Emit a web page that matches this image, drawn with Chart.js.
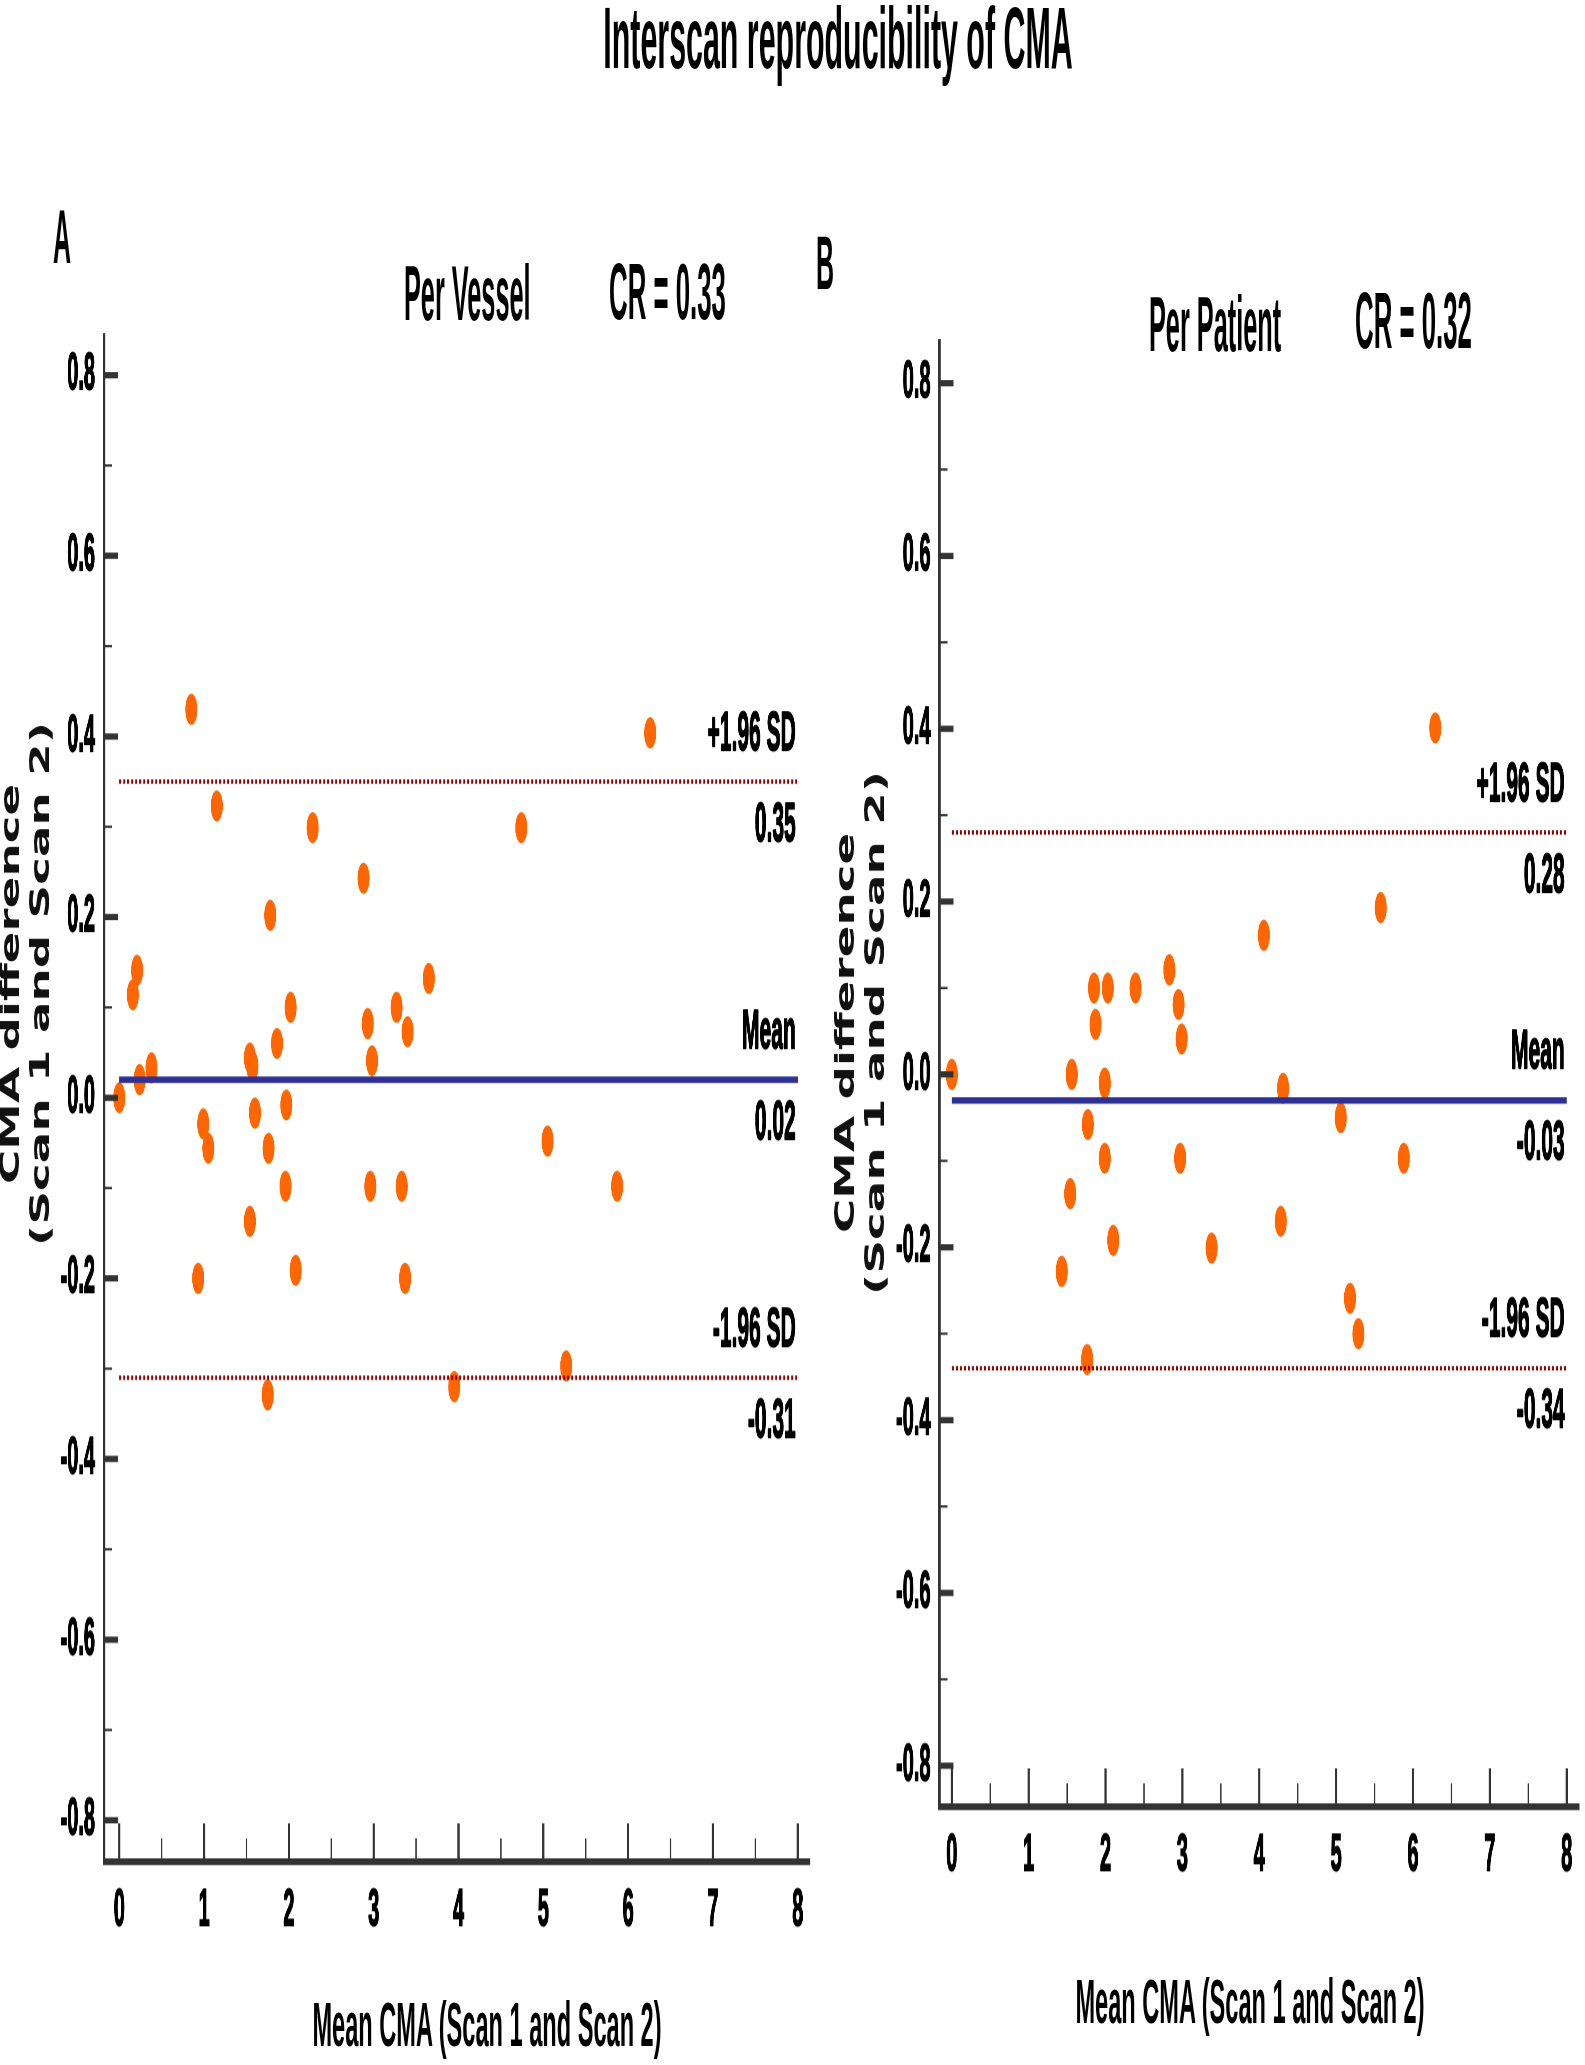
<!DOCTYPE html>
<html>
<head>
<meta charset="utf-8">
<script src="https://cdn.jsdelivr.net/npm/chart.js@4/dist/chart.umd.min.js"></script>
<style>
html,body{margin:0;padding:0;background:#fff;}
#page{position:relative;width:1585px;height:2065px;overflow:hidden;background:#fff;}
#stage{position:absolute;left:0;top:0;width:1585px;height:794px;transform-origin:0 0;}
.txt{position:absolute;white-space:nowrap;line-height:1;font-family:"Liberation Sans",Arial,sans-serif;color:#000;}
.ytitle{position:absolute;white-space:pre;text-align:center;font:bold 26px/30px "DejaVu Sans",Verdana,sans-serif;color:#111;}
canvas{position:absolute;top:0;}
</style>
</head>
<body>
<div id="page">
  <div id="stage">
    <canvas id="chartA" width="830" height="794" style="left:0px"></canvas>
    <canvas id="chartB" width="755" height="794" style="left:830px"></canvas>
  </div>
</div>
<script>
// ---------------- data ----------------
const xTicks = [0, 1, 2, 3, 4, 5, 6, 7, 8];
const xTickLabels = ['0', '1', '2', '3', '4', '5', '6', '7', '8'];
const xMinorTicks = [0.5, 1.5, 2.5, 3.5, 4.5, 5.5, 6.5, 7.5];
const yTicks = [-0.8, -0.6, -0.4, -0.2, 0, 0.2, 0.4, 0.6, 0.8];
const yTickLabels = ['-0.8', '-0.6', '-0.4', '-0.2', '0.0', '0.2', '0.4', '0.6', '0.8'];
const yMinorTicks = [-0.7, -0.5, -0.3, -0.1, 0.1, 0.3, 0.5, 0.7];

const lineLabels = ['+1.96 SD', 'Mean', '-1.96 SD'];

// Panel A: per vessel
const vesselMean = [0.85, 6.26, 1.15, 2.28, 4.74, 2.88, 1.78, 0.21, 0.16, 3.65, 2.02, 3.27, 2.93, 3.40, 1.86, 1.54, 1.57, 2.98, 0.38, 0.24, 0.00, 1.97, 1.60, 0.99, 1.05, 1.76, 5.05, 1.96, 2.96, 3.33, 5.87, 1.54, 0.93, 2.08, 3.37, 5.27, 3.95, 1.75];
const vesselDiff = [0.430, 0.404, 0.323, 0.299, 0.299, 0.243, 0.202, 0.141, 0.114, 0.132, 0.100, 0.100, 0.082, 0.073, 0.060, 0.044, 0.035, 0.041, 0.033, 0.020, 0.000, -0.008, -0.017, -0.029, -0.056, -0.056, -0.048, -0.098, -0.098, -0.098, -0.098, -0.137, -0.200, -0.191, -0.200, -0.297, -0.320, -0.329];
const vesselLines = [0.35, 0.02, -0.31];

// Panel B: per patient
const patientMean = [6.29, 5.58, 4.06, 2.83, 1.85, 2.03, 2.39, 2.95, 1.87, 2.99, 0.00, 1.56, 1.99, 4.31, 5.06, 1.77, 1.99, 2.97, 5.88, 1.54, 4.28, 2.10, 3.38, 1.43, 5.18, 5.29, 1.76];
const patientDiff = [0.401, 0.193, 0.161, 0.121, 0.100, 0.100, 0.100, 0.081, 0.058, 0.041, 0.000, 0.000, -0.010, -0.016, -0.050, -0.058, -0.097, -0.097, -0.097, -0.138, -0.170, -0.192, -0.201, -0.228, -0.259, -0.300, -0.330];
const patientLines = [0.28, -0.03, -0.34];

// ---------------- style / layout ----------------
const S = 2.6;               // vertical stretch of the whole figure
const CANVAS_H = 794;
const XAXIS_H = 50;
const AXIS_COLOR = '#333333';
const POINT_COLOR = '#ff6600';
const MEAN_COLOR = '#2e3192';
const LIMIT_COLOR = '#8b0000';
const SANS = '"Liberation Sans", Arial, sans-serif';

document.getElementById('stage').style.transform = 'scaleY(' + S + ')';

function addText(txt, x, baseline, size, vscale, center) {
  const d = document.createElement('div');
  d.className = 'txt';
  d.textContent = txt;
  d.style.fontSize = size + 'px';
  d.style.fontWeight = 'bold';
  d.style.left = x + 'px';
  d.style.top = (baseline / S - 0.8465 * size) + 'px';
  d.style.transformOrigin = '50% 84.65%';
  d.style.transform = (center ? 'translateX(-50%) ' : '') + 'scaleY(' + vscale + ')';
  document.getElementById('stage').appendChild(d);
}
function addYTitle(cx, cy) {
  const d = document.createElement('div');
  d.className = 'ytitle';
  d.textContent = 'CMA difference\n(Scan 1 and Scan 2)';
  d.style.left = cx + 'px';
  d.style.top = cy + 'px';
  d.style.transform = 'translate(-50%,-50%) rotate(-90deg) scaleX(1.8)';
  document.getElementById('page').appendChild(d);
}

addText('Interscan reproducibility of CMA', 838, 66, 30.4, 1.1, true);
addText('A', 53, 262, 25, 1.18, false);
addText('B', 816, 288, 25, 1.18, false);
addText('Per Vessel', 404, 322, 25.3, 1.18, false);
addText('CR = 0.33', 609, 323, 25.8, 1.18, false);
addText('Per Patient', 1149, 351, 25.3, 1.18, false);
addText('CR = 0.32', 1355, 351, 25.8, 1.18, false);
addText('Mean CMA (Scan 1 and Scan 2)', 487, 2048, 23.6, 1.03, true);
addText('Mean CMA (Scan 1 and Scan 2)', 1250, 2026, 23.6, 1.03, true);
addYTitle(25, 984);
addYTitle(860, 1033);

// ---------------- plugins ----------------
const inwardTicks = {
  id: 'inwardTicks',
  afterDraw(chart) {
    const {ctx, chartArea: a, scales: {x, y}} = chart;
    ctx.save();
    ctx.strokeStyle = AXIS_COLOR;
    ctx.lineCap = 'butt';
    const hTick = (v, len, w) => {
      const py = y.getPixelForValue(v);
      ctx.lineWidth = w; ctx.beginPath(); ctx.moveTo(a.left, py); ctx.lineTo(a.left + len, py); ctx.stroke();
    };
    const vTick = (v, len, w) => {
      const px = x.getPixelForValue(v);
      ctx.lineWidth = w; ctx.beginPath(); ctx.moveTo(px, a.bottom); ctx.lineTo(px, a.bottom - len); ctx.stroke();
    };
    yTicks.forEach(v => hTick(v, 14, 2.4));
    yMinorTicks.forEach(v => hTick(v, 8, 0.9));
    xTicks.forEach(v => vTick(v, 38 / S, 2.2));
    xMinorTicks.forEach(v => vTick(v, 23 / S, 1.4));
    ctx.restore();
  }
};

const limitLabels = {
  id: 'limitLabels',
  afterDatasetsDraw(chart, args, opts) {
    const {ctx, scales: {x, y}} = chart;
    const right = x.getPixelForValue(xTicks[xTicks.length - 1]) - 2;
    ctx.save();
    ctx.font = 'bold 21px ' + SANS;
    ctx.fillStyle = '#000';
    ctx.strokeStyle = '#000';
    ctx.lineWidth = 0.7;
    ctx.lineJoin = 'round';
    ctx.textAlign = 'right';
    ctx.textBaseline = 'middle';
    opts.values.forEach((v, i) => {
      const py = y.getPixelForValue(v);
      [[lineLabels[i], py - 18], [v.toFixed(2), py + 17]].forEach(([t, ty]) => {
        ctx.fillText(t, right, ty);
        ctx.strokeText(t, right, ty);
      });
    });
    ctx.restore();
  }
};

// ---------------- charts ----------------
function makeChart(id, means, diffs, lines, geo) {
  const points = means.map((m, i) => ({x: m, y: diffs[i]}));
  const lineSets = lines.map((v, i) => ({
    data: [{x: xTicks[0], y: v}, {x: xTicks[xTicks.length - 1], y: v}],
    showLine: true,
    pointRadius: 0,
    borderColor: i === 1 ? MEAN_COLOR : LIMIT_COLOR,
    borderWidth: i === 1 ? 2.5 : 1.7,
    borderDash: i === 1 ? [] : [2, 2],
    order: 1
  }));
  const tickFont = {family: SANS, size: 20, weight: 'bold'};
  return new Chart(document.getElementById(id), {
    type: 'scatter',
    data: {
      datasets: [{
        data: points,
        pointRadius: 6,
        pointHoverRadius: 6,
        pointBackgroundColor: POINT_COLOR,
        pointBorderColor: POINT_COLOR,
        pointBorderWidth: 0,
        order: 2
      }].concat(lineSets)
    },
    options: {
      responsive: false,
      animation: false,
      devicePixelRatio: S,
      events: [],
      layout: {
        padding: {
          top: geo.top / S,
          bottom: CANVAS_H - geo.bottom / S - XAXIS_H,
          left: 0,
          right: geo.width - geo.right
        }
      },
      plugins: {
        legend: {display: false},
        tooltip: {enabled: false},
        limitLabels: {values: lines}
      },
      scales: {
        x: {
          type: 'linear',
          min: geo.xMin,
          max: geo.xMax,
          afterBuildTicks: s => { s.ticks = xTicks.map(v => ({value: v})); },
          afterFit: s => { s.height = XAXIS_H; },
          grid: {display: false, drawTicks: false},
          border: {display: true, width: 2.6, color: AXIS_COLOR},
          ticks: {padding: 7, font: tickFont, color: '#000', autoSkip: false, maxRotation: 0,
                  textStrokeColor: '#000', textStrokeWidth: 0.7,
                  callback: (v, i) => xTickLabels[i]}
        },
        y: {
          type: 'linear',
          min: geo.yMin,
          max: geo.yMax,
          afterBuildTicks: s => { s.ticks = yTicks.map(v => ({value: v})); },
          afterFit: s => { s.width = geo.left; },
          grid: {display: false, drawTicks: false},
          border: {display: true, width: 2.6, color: AXIS_COLOR},
          ticks: {padding: 9, font: tickFont, color: '#000', autoSkip: false,
                  textStrokeColor: '#000', textStrokeWidth: 0.7,
                  callback: (v, i) => yTickLabels[i]}
        }
      }
    },
    plugins: [inwardTicks, limitLabels]
  });
}

makeChart('chartA', vesselMean, vesselDiff, vesselLines,
  {width: 830, left: 104, right: 809.6, top: 336, bottom: 1861, xMin: -0.18, xMax: 8.14, yMin: -0.8455, yMax: 0.8433});
makeChart('chartB', patientMean, patientDiff, patientLines,
  {width: 755, left: 109.5, right: 752, top: 342, bottom: 1806, xMin: -0.16, xMax: 8.16, yMin: -0.847, yMax: 0.8475});
</script>
</body>
</html>
